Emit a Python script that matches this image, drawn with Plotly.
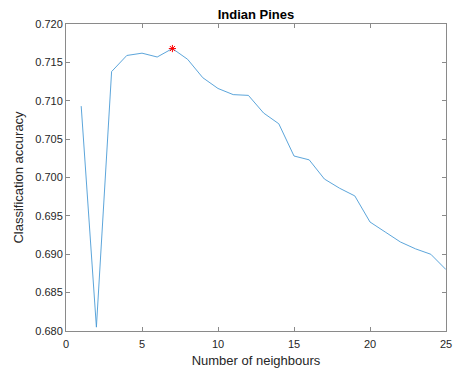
import plotly.graph_objects as go

neighbours = list(range(1, 26))
accuracy = [0.7093, 0.6805, 0.7138, 0.7159, 0.7162, 0.7157, 0.7168, 0.7154, 0.7130,
            0.7116, 0.7108, 0.7107, 0.7084, 0.7070, 0.7028, 0.7023, 0.6998, 0.6986,
            0.6976, 0.6942, 0.6929, 0.6916, 0.6907, 0.6900, 0.6880]
best_k = [7]
best_acc = [0.7168]

x_ticks = [0, 5, 10, 15, 20, 25]
y_ticks = [0.680, 0.685, 0.690, 0.695, 0.700, 0.705, 0.710, 0.715, 0.720]

font = "Liberation Sans, Helvetica, Arial, sans-serif"
axis_col = "#8a8a8a"
txt_col = "#262626"

fig = go.Figure()
fig.add_trace(go.Scatter(x=neighbours, y=accuracy, mode="lines",
                         line=dict(color="#4a9bd6", width=0.9), showlegend=False))
fig.add_trace(go.Scatter(x=best_k, y=best_acc, mode="markers",
                         marker=dict(symbol="asterisk-open", size=6, color="#ff0000",
                                     line=dict(color="#ff0000", width=1)),
                         showlegend=False))

axis_common = dict(showgrid=False, zeroline=False, showline=True, mirror="ticks",
                   linecolor=axis_col, linewidth=1, ticks="inside", ticklen=4,
                   tickcolor=axis_col, tickwidth=1,
                   tickfont=dict(family=font, size=11, color=txt_col))

fig.update_layout(
    width=459, height=372,
    margin=dict(l=66, r=7, t=24, b=41),
    plot_bgcolor="white", paper_bgcolor="white",
    title=dict(text="<b>Indian Pines</b>", x=0.5, xanchor="center", y=0.96, yanchor="middle",
               xref="paper",
               font=dict(family=font, size=13, color="#000")),
    xaxis=dict(range=[0, 25], tickvals=x_ticks, ticktext=[str(v) for v in x_ticks],
               ticklabelstandoff=3,
               title=dict(text="Number of neighbours", standoff=6,
                          font=dict(family=font, size=13, color=txt_col)),
               **axis_common),
    yaxis=dict(range=[0.680, 0.720], tickvals=y_ticks, ticktext=[f"{v:.3f}" for v in y_ticks],
               title=dict(text="Classification accuracy", standoff=8,
                          font=dict(family=font, size=13, color=txt_col)),
               **axis_common),
)
fig.write_html("out.html")
